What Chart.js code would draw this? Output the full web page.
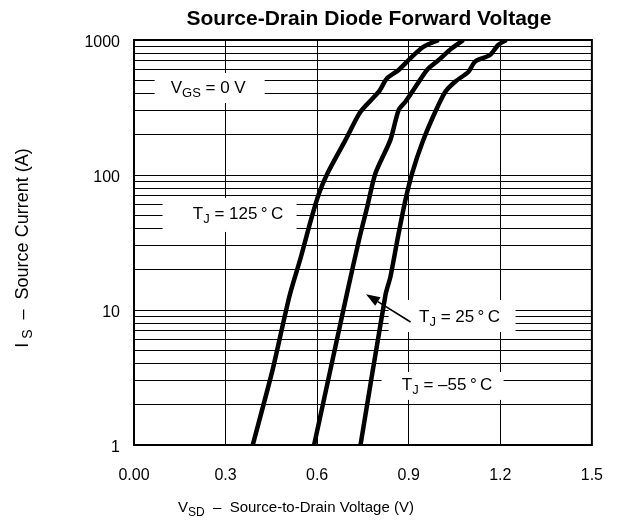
<!DOCTYPE html>
<html>
<head>
<meta charset="utf-8">
<script src="https://cdn.jsdelivr.net/npm/chart.js@4/dist/chart.umd.min.js"></script>
<style>
html,body{margin:0;padding:0;background:#fff;}
#wrap{width:624px;height:523px;}
</style>
</head>
<body>
<div id="wrap"><canvas id="c" width="624" height="523"></canvas></div>
<script>
// ---- Data ----
const v125 = [0.389, 0.454, 0.509, 0.547, 0.579, 0.606, 0.634, 0.693, 0.742, 0.802, 0.829, 0.867, 0.905, 0.949, 0.998];
const i125 = [1, 3.6, 12.6, 24.8, 46, 73, 103, 182, 294, 414, 520, 600, 731, 892, 1000];
const v25 = [0.590, 0.700, 0.737, 0.764, 0.791, 0.840, 0.867, 0.889, 0.925, 0.960, 0.998, 1.041, 1.079];
const i25 = [1, 14, 33, 58, 103, 182, 303, 349, 460, 600, 711, 868, 1000];
const vm55 = [0.742, 0.824, 0.840, 0.867, 0.889, 0.911, 0.945, 0.987, 1.020, 1.052, 1.096, 1.117, 1.166, 1.193, 1.220];
const im55 = [1, 13, 17.6, 37, 65, 103, 175, 294, 414, 491, 582, 691, 774, 918, 1000];

const xTickValues = [0, 0.3, 0.6, 0.9, 1.2, 1.5];
const xTickLabels = ['0.00', '0.3', '0.6', '0.9', '1.2', '1.5'];
const yDecades = [1, 10, 100, 1000];
const yTickLabels = ['1', '10', '100', '1000'];

const titleText = 'Source-Drain Diode Forward Voltage';
const xTitleParts = [['V', 0], ['SD', 1], ['  \u2013  Source-to-Drain Voltage (V)', 0]];
const yTitleParts = [['I', 0], [' S', 1], ['  \u2013  Source Current (A)', 0]];

// label boxes anchored in data coordinates
const labels = [
  {x: 0.248, y: 441, parts: [['V', 0], ['GS', 1], [' = 0 V', 0]], w: 110, h: 30, dx: -1.5, dy: 0},
  {x: 0.313, y: 50.6, parts: [['T', 0], ['J', 1], [' = 125\u2009\u00b0\u2009C', 0]], w: 134, h: 34, dx: 8.5, dy: -1},
  {x: 1.042, y: 9.03, parts: [['T', 0], ['J', 1], [' = 25\u2009\u00b0\u2009C', 0]], w: 127, h: 32, dx: 7.5, dy: 1},
  {x: 1.011, y: 2.74, parts: [['T', 0], ['J', 1], [' = \u201355\u2009\u00b0\u2009C', 0]], w: 122, h: 28, dx: 4.5, dy: -1}
];
const arrowFrom = {x: 0.906, y: 8.15};
const arrowTo = {x: 0.760, y: 13.1};

// y grid values: 1..9, 10..90, 100..900, 1000
const yGrid = [];
for (let d = 1; d < 1000; d *= 10) for (let k = 1; k < 10; k++) yGrid.push(k * d);
yGrid.push(1000);

const toPts = (xs, ys) => xs.map((x, i) => ({x: x, y: ys[i]}));

const FONT = '"Liberation Sans", Arial, Helvetica, sans-serif';

function drawRich(ctx, parts, x, y, size, align) {
  let total = 0;
  const widths = parts.map(p => {
    ctx.font = (p[1] ? Math.round(size * 0.78) : size) + 'px ' + FONT;
    const w = ctx.measureText(p[0]).width;
    total += w;
    return w;
  });
  let cx = align === 'center' ? x - total / 2 : x;
  ctx.textBaseline = 'middle';
  ctx.textAlign = 'left';
  parts.forEach((p, i) => {
    ctx.font = (p[1] ? Math.round(size * 0.78) : size) + 'px ' + FONT;
    ctx.fillText(p[0], cx, y + (p[1] ? size * 0.3 : 0));
    cx += widths[i];
  });
}

const decor = {
  id: 'decor',
  beforeDatasetsDraw(chart) {
    const ctx = chart.ctx, xs = chart.scales.x, ys = chart.scales.y;
    ctx.save();
    ctx.fillStyle = '#fff';
    labels.forEach(l => {
      const px = xs.getPixelForValue(l.x), py = ys.getPixelForValue(l.y);
      ctx.fillRect(px - l.w / 2, py - l.h / 2, l.w, l.h);
    });
    ctx.restore();
  },
  afterDraw(chart) {
    const ctx = chart.ctx, xs = chart.scales.x, ys = chart.scales.y, a = chart.chartArea;
    ctx.save();
    ctx.strokeStyle = '#000';
    ctx.lineWidth = 2;
    ctx.strokeRect(a.left, a.top, a.right - a.left, a.bottom - a.top);
    ctx.fillStyle = '#000';
    labels.forEach(l => {
      drawRich(ctx, l.parts, xs.getPixelForValue(l.x) + l.dx, ys.getPixelForValue(l.y) + l.dy, 17, 'center');
    });
    // arrow
    const x1 = xs.getPixelForValue(arrowFrom.x), y1 = ys.getPixelForValue(arrowFrom.y);
    const x2 = xs.getPixelForValue(arrowTo.x), y2 = ys.getPixelForValue(arrowTo.y);
    const ang = Math.atan2(y2 - y1, x2 - x1);
    const hl = 14, hw = 5;
    const bx = x2 - hl * Math.cos(ang), by = y2 - hl * Math.sin(ang);
    ctx.strokeStyle = '#000';
    ctx.lineWidth = 1.6;
    ctx.beginPath(); ctx.moveTo(x1, y1); ctx.lineTo(bx, by); ctx.stroke();
    ctx.beginPath();
    ctx.moveTo(x2, y2);
    ctx.lineTo(bx + hw * Math.sin(ang), by - hw * Math.cos(ang));
    ctx.lineTo(bx - hw * Math.sin(ang), by + hw * Math.cos(ang));
    ctx.closePath(); ctx.fill();
    // title
    ctx.font = 'bold 21px ' + FONT;
    ctx.textAlign = 'center'; ctx.textBaseline = 'middle';
    ctx.fillText(titleText, (a.left + a.right) / 2 + 6, 19);
    // x title
    drawRich(ctx, xTitleParts, (a.left + a.right) / 2 - 67, 508, 15, 'center');
    // y title
    ctx.translate(23, 248);
    ctx.rotate(-Math.PI / 2);
    drawRich(ctx, yTitleParts, 0, 0, 18, 'center');
    ctx.restore();
  }
};

const ds = (data) => ({
  data: data, borderColor: '#000', backgroundColor: '#000', borderWidth: 4.5,
  pointRadius: 0, tension: 0.25, fill: false, showLine: true,
  borderCapStyle: 'butt', borderJoinStyle: 'round'
});

new Chart(document.getElementById('c'), {
  type: 'scatter',
  data: {
    datasets: [ds(toPts(v125, i125)), ds(toPts(v25, i25)), ds(toPts(vm55, im55))]
  },
  options: {
    responsive: false,
    animation: false,
    devicePixelRatio: 1,
    layout: {padding: {top: 40, right: 30, left: 0, bottom: 0}},
    plugins: {legend: {display: false}, tooltip: {enabled: false}, title: {display: false}},
    scales: {
      x: {
        type: 'linear', min: 0, max: 1.5,
        afterBuildTicks: s => { s.ticks = xTickValues.map(v => ({value: v})); },
        afterFit: s => { s.height = 78; },
        grid: {color: '#000', lineWidth: 1, drawTicks: false},
        border: {display: false},
        ticks: {
          padding: 21, color: '#000', font: {family: FONT, size: 16}, maxRotation: 0, autoSkip: false,
          callback: (v) => { const i = xTickValues.findIndex(t => Math.abs(t - v) < 1e-9); return i >= 0 ? xTickLabels[i] : ''; }
        }
      },
      y: {
        type: 'logarithmic', min: 1, max: 1000,
        afterBuildTicks: s => { s.ticks = yGrid.map(v => ({value: v})); },
        afterFit: s => { s.width = 134; },
        grid: {color: '#000', lineWidth: 1, drawTicks: false},
        border: {display: false},
        ticks: {
          padding: 14, labelOffset: 3, color: '#000', font: {family: FONT, size: 16}, autoSkip: false,
          callback: (v) => { const i = yDecades.indexOf(v); return i >= 0 ? yTickLabels[i] : ''; }
        }
      }
    }
  },
  plugins: [decor]
});
</script>
</body>
</html>
